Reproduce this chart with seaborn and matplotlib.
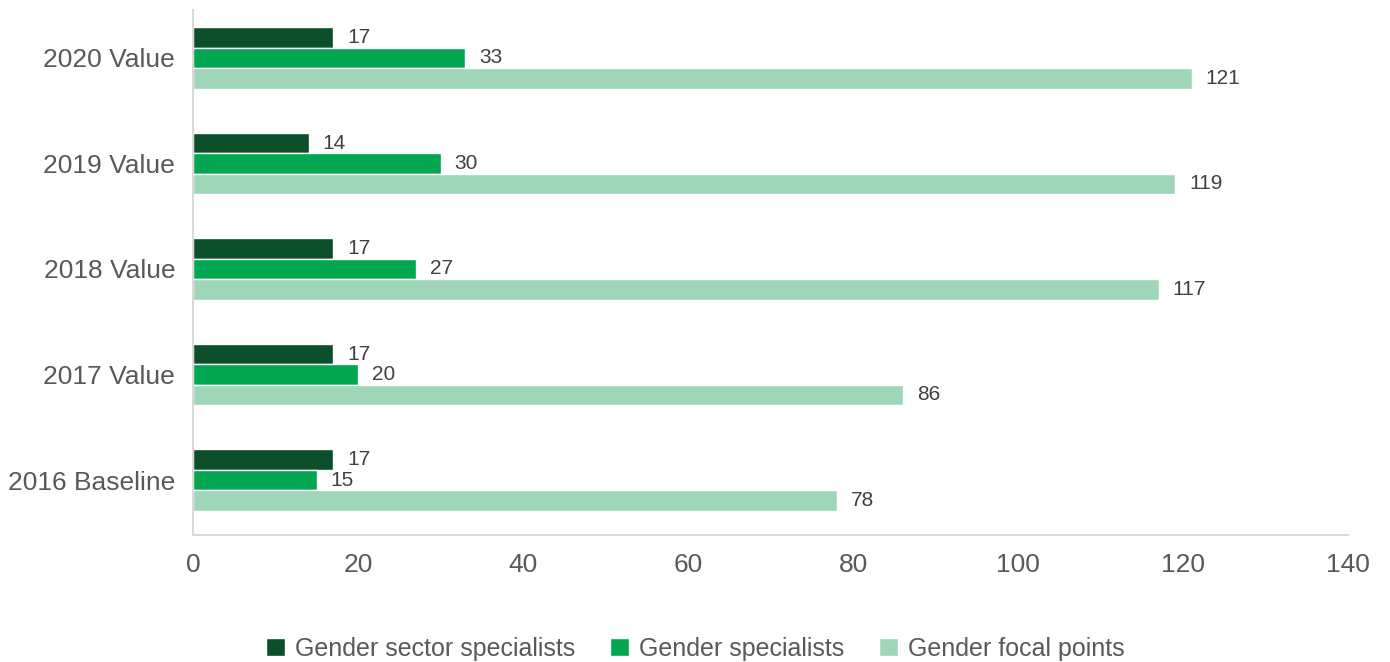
import pandas as pd
import matplotlib.pyplot as plt
import seaborn as sns

# data
categories = ["2020 Value", "2019 Value", "2018 Value", "2017 Value", "2016 Baseline"]
sector_specialists = [17, 14, 17, 17, 17]
specialists = [33, 30, 27, 20, 15]
focal_points = [121, 119, 117, 86, 78]
series_names = ["Gender sector specialists", "Gender specialists", "Gender focal points"]
colors = ["#0B4F2A", "#00A650", "#9FD6B8"]

df = pd.DataFrame({
    "category": categories * 3,
    "value": sector_specialists + specialists + focal_points,
    "series": [series_names[0]] * 5 + [series_names[1]] * 5 + [series_names[2]] * 5,
})

sns.set_style("white")
plt.rcParams['font.family'] = ['Liberation Sans', 'DejaVu Sans']

fig, ax = plt.subplots(figsize=(13.9, 6.62), dpi=100)
sns.barplot(data=df, y="category", x="value", hue="series", order=categories,
            hue_order=series_names, palette=colors, orient="h", width=0.58,
            gap=0, saturation=1, ax=ax)

for cont in ax.containers:
    ax.bar_label(cont, padding=10, fontsize=15, color="#404040")

ax.set_xlim(0, 140)
ax.set_ylim(4.52, -0.455)
ax.set_xticks(range(0, 141, 20))
ax.set_xlabel("")
ax.set_ylabel("")
ax.tick_params(axis="both", length=0, labelsize=19, labelcolor="#595959")
ax.tick_params(axis="x", pad=13)
ax.tick_params(axis="y", pad=13)
sns.despine(ax=ax)
for s in ["left", "bottom"]:
    ax.spines[s].set_color("#D9D9D9")
    ax.spines[s].set_linewidth(1.5)

handles, labels = ax.get_legend_handles_labels()
ax.legend_.remove()
fig.legend(handles, labels, loc="lower center", ncol=3, frameon=False,
           fontsize=18, handlelength=0.75, handleheight=0.75, handletextpad=0.4,
           columnspacing=1.4, bbox_to_anchor=(0.5, -0.032), labelcolor="#595959")

fig.subplots_adjust(left=0.139, right=0.97, top=0.985, bottom=0.192)
fig.savefig("out.png", dpi=100)
